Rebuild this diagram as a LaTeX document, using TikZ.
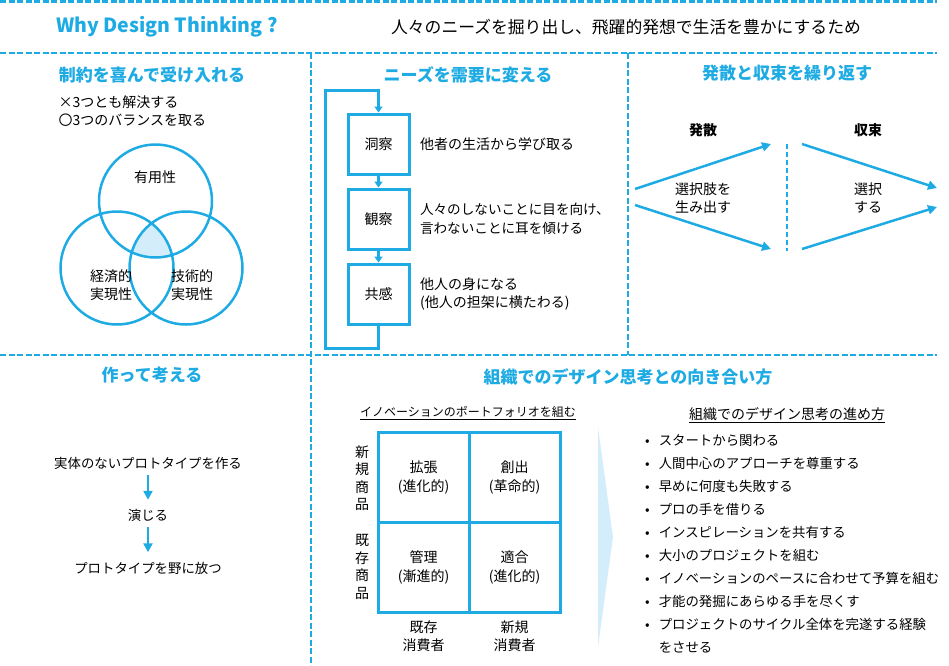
\documentclass[tikz,border=0pt]{standalone}
\usepackage{fontspec}
\setmainfont{Noto Sans CJK JP}
\usetikzlibrary{positioning,arrows.meta}
\definecolor{dtblue}{HTML}{1EABE3}
\definecolor{dtlight}{HTML}{D3EEFA}
\tikzset{
  divider/.style={dtblue, line width=2.4pt, dash pattern=on 6pt off 2.5pt},
  heading/.style={text=dtblue, font=\fontsize{17}{20}\selectfont\bfseries},
  body/.style={font=\fontsize{14}{18.5}\selectfont, align=center},
  stepbox/.style={draw=dtblue, line width=3pt, minimum width=61pt, minimum height=60pt,
    font=\fontsize{14}{17}\selectfont},
  cell/.style={draw=dtblue, line width=3pt, minimum width=91pt, minimum height=90pt,
    font=\fontsize{14}{19}\selectfont, align=center},
  flow/.style={dtblue, line width=3pt, -{Triangle[width=8pt,length=6pt]}},
  branch/.style={dtblue, line width=2.5pt, -{Triangle[width=9pt,length=9pt]}},
  vennline/.style={dtblue, line width=2.5pt}
}
\begin{document}
\begin{tikzpicture}[x=1pt, y=-1pt, node distance=75pt, on grid]
\useasboundingbox (0,0) rectangle (949,665);
% frame
\draw[divider] (0,1.5) -- (937,1.5);
\draw[divider] (0,53) -- (937,53);
\draw[divider] (0,355) -- (937,355);
\draw[divider] (311,53) -- (311,665);
\draw[divider] (628,53) -- (628,355);

% title row
\node[heading, font=\fontsize{19.5}{22}\selectfont\bfseries] (why) at (167,27) {Why Design Thinking ?};
\node[font=\fontsize{16.8}{20}\selectfont] (purpose) at (626,27) {人々のニーズを掘り出し、飛躍的発想で生活を豊かにするため};

% constraints
\node[heading] (accept) at (152,75) {制約を喜んで受け入れる};
\node[body, anchor=west, align=left] (rule) at (55,111) {×3つとも解決する\\〇3つのバランスを取る};
\coordinate (cuse) at (155.5,201);
\coordinate (cecon) at (117,268);
\coordinate (ctech) at (186,268);
\begin{scope}
  \clip (cuse) circle (56.5pt);
  \clip (cecon) circle (56.5pt);
  \fill[dtlight] (ctech) circle (56.5pt);
\end{scope}
\draw[vennline] (cuse) circle (56.5pt) (cecon) circle (56.5pt) (ctech) circle (56.5pt);
\node[body] (useful) at (155,177) {有用性};
\node[body] (econ) at (111,285) {経済的\\実現性};
\node[body] (tech) at (192,285) {技術的\\実現性};

% needs to demand
\node[heading] (demand) at (468,75) {ニーズを需要に変える};
\node[stepbox] (insight) at (378.5,144) {洞察};
\node[stepbox, below=of insight] (observe) {観察};
\node[stepbox, below=of observe] (empathy) {共感};
\coordinate (loopbl) at (325,348);
\coordinate (looptl) at (325,90);
\draw[flow] (insight) -- (observe);
\draw[flow] (observe) -- (empathy);
\draw[flow] (empathy.south) |- (loopbl) -- (looptl) -| (insight.north);
\node[body, anchor=west, align=left] (learn) at ([xshift=6pt]insight.east) {他者の生活から学び取る};
\node[body, anchor=west, align=left, font=\fontsize{13.6}{18.5}\selectfont] (notice) at ([xshift=6pt]observe.east) {人々のしないことに目を向け、\\言わないことに耳を傾ける};
\node[body, anchor=west, align=left] (inshoes) at ([xshift=6pt]empathy.east) {他人の身になる\\(他人の担架に横たわる)};

% diverge and converge
\node[heading] (repeat) at (787,73) {発散と収束を繰り返す};
\node[body, font=\fontsize{14}{17}\selectfont\bfseries] (diverge) at (703,130) {発散};
\node[body, font=\fontsize{14}{17}\selectfont\bfseries] (converge) at (868,130) {収束};
\coordinate (dstart1) at (635,189);
\coordinate (dstart2) at (635,205);
\coordinate (dend1) at (771,144);
\coordinate (dend2) at (771,249);
\coordinate (cstart1) at (802,144);
\coordinate (cstart2) at (802,249);
\coordinate (cend1) at (937,188);
\coordinate (cend2) at (937,207);
\draw[branch] (dstart1) -- (dend1);
\draw[branch] (dstart2) -- (dend2);
\draw[branch] (cstart1) -- (cend1);
\draw[branch] (cstart2) -- (cend2);
\draw[dtblue, line width=2pt, dash pattern=on 5pt off 3pt] (787,144) -- (787,251);
\node[body] (options) at (703,198) {選択肢を\\生み出す};
\node[body] (choose) at (868,198) {選択\\する};

% build to think
\node[heading] (build) at (152,375) {作って考える};
\begin{scope}[node distance=52.5pt, body/.append style={font=\fontsize{13.4}{18}\selectfont}]
\node[body] (proto) at (148,463) {実体のないプロトタイプを作る};
\node[body, below=of proto] (act) {演じる};
\node[body, below=of act] (release) {プロトタイプを野に放つ};
\end{scope}
\draw[branch, shorten <=2pt, shorten >=6pt] (proto) -- (act);
\draw[branch, shorten <=2pt, shorten >=6pt] (act) -- (release);

% organisation
\node[heading] (org) at (628,377) {組織でのデザイン思考との向き合い方};
\node[body, font=\fontsize{12}{16}\selectfont] (portfolio) at (468,413) {\underline{イノベーションのポートフォリオを組む}};
\node[cell] (expand) at (423.5,477.5) {拡張\\(進化的)};
\node[cell] (create) at (514.5,477.5) {創出\\(革命的)};
\node[cell] (manage) at (423.5,567.5) {管理\\(漸進的)};
\node[cell] (adapt) at (514.5,567.5) {適合\\(進化的)};
\node[body, font=\fontsize{14}{17.5}\selectfont] (newprod) at (362,478) {新\\規\\商\\品};
\node[body, font=\fontsize{14}{17.5}\selectfont] (oldprod) at (362,567) {既\\存\\商\\品};
\node[body] (oldcust) at (423.5,636) {既存\\消費者};
\node[body] (newcust) at (514.5,636) {新規\\消費者};
\fill[dtlight] (598,427) -- (613,537) -- (598,647) -- cycle;
\node[body] (howto) at (787,415) {\underline{組織でのデザイン思考の進め方}};
\node[anchor=north west, inner sep=0pt, font=\fontsize{13.4}{23}\selectfont] (practices) at (645,429.5) {%
\begin{tabular}{@{}l@{\hspace{9pt}}l@{}}
• & スタートから関わる\\
• & 人間中心のアプローチを尊重する\\
• & 早めに何度も失敗する\\
• & プロの手を借りる\\
• & インスピレーションを共有する\\
• & 大小のプロジェクトを組む\\
• & イノベーションのペースに合わせて予算を組む\\
• & 才能の発掘にあらゆる手を尽くす\\
• & プロジェクトのサイクル全体を完遂する経験\\
  & をさせる
\end{tabular}};
\end{tikzpicture}
\end{document}
